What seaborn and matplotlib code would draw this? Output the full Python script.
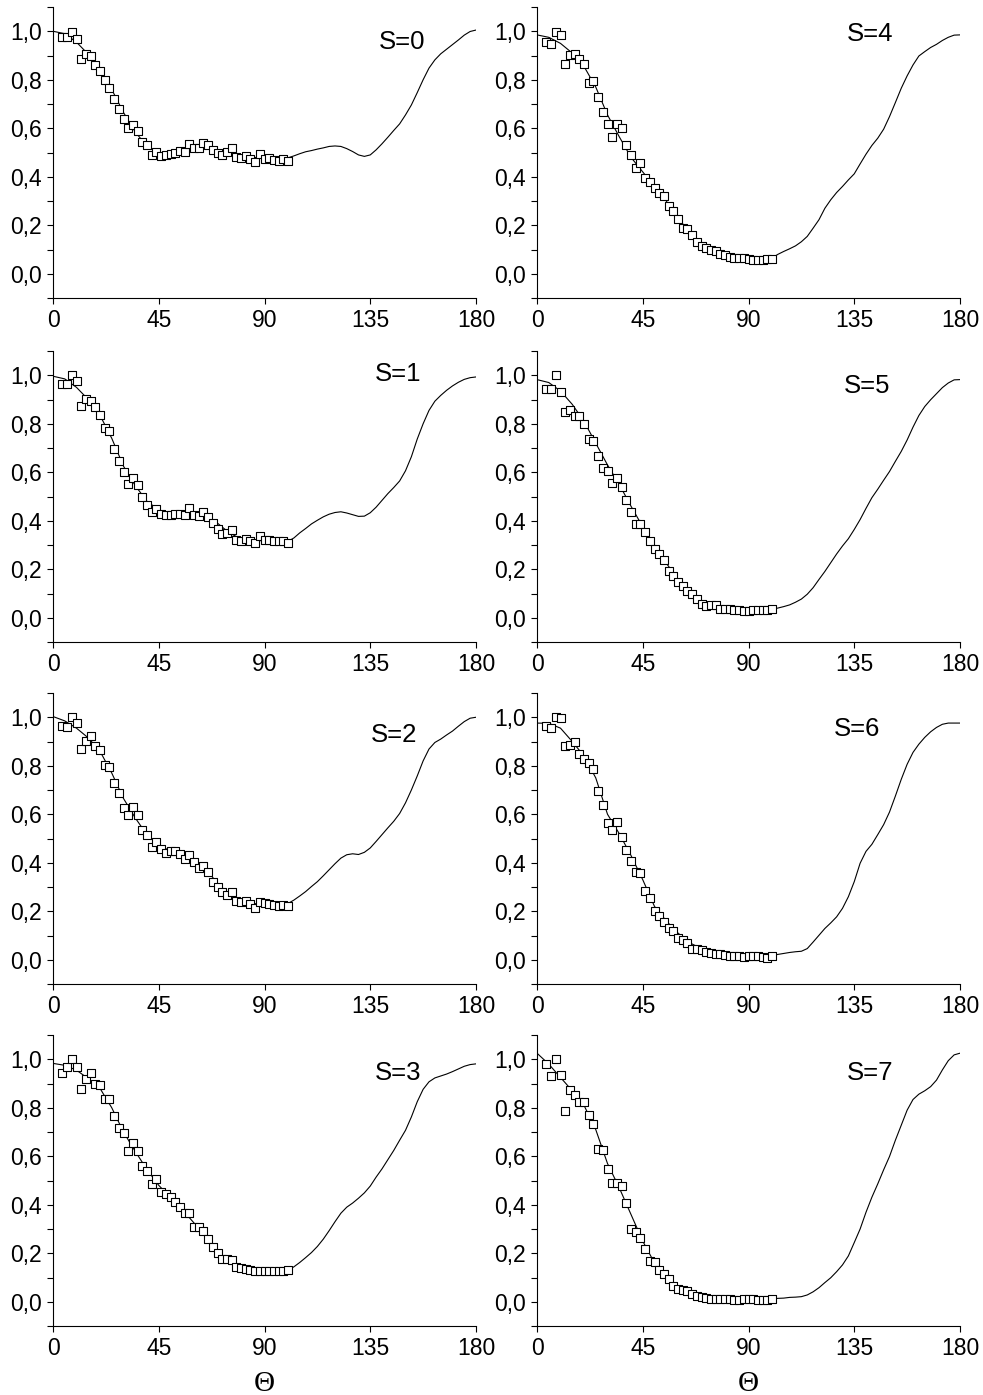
import matplotlib
matplotlib.use("Agg")
import matplotlib.pyplot as plt
import seaborn as sns
import pandas as pd
from matplotlib.ticker import MultipleLocator, FixedLocator, FuncFormatter

# ---------------- data ----------------
theta_exp = [4, 6, 8, 10, 12, 14, 16, 18, 20, 22, 24, 26, 28, 30, 32, 34, 36, 38, 40,
             42, 44, 46, 48, 50, 52, 54, 56, 58, 60, 62, 64, 66, 68, 70, 72, 74, 76,
             78, 80, 82, 84, 86, 88, 90, 92, 94, 96, 98, 100]
theta_fit = [0, 5, 10, 15, 20, 25, 30, 35, 40, 45, 50, 55, 60, 65, 70, 75, 80, 85, 90,
             95, 100, 102.5, 105, 107.5, 110, 112.5, 115, 117.5, 120, 122.5, 125, 127.5,
             130, 132.5, 135, 137.5, 140, 142.5, 145, 147.5, 150, 152.5, 155, 157.5,
             160, 162.5, 165, 167.5, 170, 172.5, 175, 177.5, 180]

exp_s0 = [0.978, 0.978, 0.995, 0.967, 0.885, 0.905, 0.896, 0.861, 0.837, 0.800, 0.768,
          0.720, 0.680, 0.639, 0.602, 0.614, 0.589, 0.545, 0.532, 0.489, 0.504, 0.486,
          0.490, 0.493, 0.499, 0.508, 0.504, 0.534, 0.518, 0.518, 0.541, 0.532, 0.511,
          0.497, 0.489, 0.504, 0.518, 0.481, 0.477, 0.484, 0.473, 0.459, 0.492, 0.474,
          0.478, 0.470, 0.467, 0.474, 0.466]
fit_s0 = [1.000, 0.990, 0.955, 0.905, 0.840, 0.760, 0.665, 0.585, 0.525, 0.495, 0.495,
          0.510, 0.525, 0.525, 0.510, 0.495, 0.485, 0.480, 0.478, 0.475, 0.478,
          0.486, 0.495, 0.503, 0.508, 0.514, 0.519, 0.525, 0.527, 0.525, 0.516, 0.504,
          0.490, 0.484, 0.490, 0.511, 0.536, 0.563, 0.591, 0.618, 0.655, 0.696, 0.747,
          0.800, 0.848, 0.882, 0.907, 0.926, 0.945, 0.964, 0.984, 0.999, 1.005]

exp_s1 = [0.965, 0.965, 1.003, 0.976, 0.874, 0.903, 0.893, 0.869, 0.838, 0.783, 0.769,
          0.696, 0.647, 0.602, 0.553, 0.578, 0.548, 0.498, 0.467, 0.437, 0.450, 0.426,
          0.423, 0.423, 0.426, 0.426, 0.422, 0.451, 0.423, 0.419, 0.437, 0.416, 0.391,
          0.364, 0.347, 0.350, 0.361, 0.321, 0.315, 0.325, 0.315, 0.307, 0.336, 0.322,
          0.320, 0.318, 0.315, 0.315, 0.307]
fit_s1 = [0.996, 0.985, 0.950, 0.900, 0.835, 0.740, 0.625, 0.545, 0.480, 0.445, 0.430,
          0.430, 0.435, 0.425, 0.390, 0.350, 0.325, 0.318, 0.318, 0.316, 0.315,
          0.329, 0.350, 0.368, 0.387, 0.402, 0.416, 0.427, 0.434, 0.437, 0.432, 0.425,
          0.418, 0.419, 0.433, 0.456, 0.484, 0.512, 0.537, 0.564, 0.606, 0.664, 0.737,
          0.800, 0.855, 0.893, 0.917, 0.938, 0.956, 0.971, 0.983, 0.990, 0.993]

exp_s2 = [0.965, 0.958, 1.003, 0.976, 0.871, 0.903, 0.921, 0.882, 0.864, 0.805, 0.793,
          0.730, 0.686, 0.625, 0.595, 0.629, 0.596, 0.537, 0.515, 0.467, 0.487, 0.455,
          0.440, 0.447, 0.447, 0.437, 0.415, 0.432, 0.402, 0.380, 0.387, 0.360, 0.320,
          0.302, 0.281, 0.267, 0.281, 0.242, 0.238, 0.242, 0.230, 0.212, 0.239, 0.232,
          0.230, 0.224, 0.221, 0.225, 0.223]
fit_s2 = [1.003, 0.985, 0.955, 0.915, 0.860, 0.770, 0.665, 0.585, 0.515, 0.470, 0.450,
          0.435, 0.415, 0.375, 0.315, 0.270, 0.245, 0.232, 0.228, 0.228, 0.232,
          0.246, 0.263, 0.281, 0.302, 0.322, 0.346, 0.371, 0.396, 0.419, 0.433, 0.437,
          0.434, 0.443, 0.461, 0.488, 0.516, 0.544, 0.571, 0.603, 0.647, 0.700, 0.758,
          0.820, 0.869, 0.896, 0.910, 0.927, 0.943, 0.963, 0.982, 0.996, 1.000]

exp_s3 = [0.945, 0.967, 1.000, 0.967, 0.876, 0.917, 0.942, 0.900, 0.892, 0.836, 0.838,
          0.768, 0.717, 0.697, 0.622, 0.655, 0.622, 0.558, 0.539, 0.486, 0.507, 0.454,
          0.445, 0.434, 0.410, 0.392, 0.366, 0.366, 0.309, 0.309, 0.290, 0.258, 0.224,
          0.203, 0.178, 0.178, 0.171, 0.144, 0.141, 0.135, 0.130, 0.127, 0.127, 0.127,
          0.127, 0.127, 0.127, 0.127, 0.130]
fit_s3 = [0.983, 0.975, 0.955, 0.920, 0.880, 0.800, 0.700, 0.620, 0.545, 0.480, 0.430,
          0.380, 0.325, 0.265, 0.205, 0.165, 0.142, 0.132, 0.128, 0.127, 0.130,
          0.144, 0.162, 0.182, 0.203, 0.228, 0.258, 0.293, 0.330, 0.365, 0.390, 0.407,
          0.427, 0.449, 0.477, 0.514, 0.548, 0.586, 0.624, 0.666, 0.707, 0.762, 0.825,
          0.876, 0.907, 0.923, 0.931, 0.939, 0.949, 0.960, 0.971, 0.978, 0.981]

exp_s4 = [0.957, 0.948, 0.996, 0.986, 0.865, 0.902, 0.905, 0.885, 0.864, 0.788, 0.793,
          0.729, 0.669, 0.618, 0.563, 0.618, 0.599, 0.529, 0.488, 0.435, 0.455, 0.396,
          0.380, 0.352, 0.335, 0.320, 0.280, 0.260, 0.224, 0.190, 0.184, 0.161, 0.130,
          0.114, 0.106, 0.096, 0.092, 0.082, 0.077, 0.071, 0.067, 0.067, 0.065, 0.060,
          0.058, 0.056, 0.055, 0.062, 0.060]
fit_s4 = [0.985, 0.975, 0.950, 0.910, 0.855, 0.770, 0.655, 0.565, 0.480, 0.420, 0.360,
          0.300, 0.230, 0.170, 0.120, 0.095, 0.080, 0.070, 0.062, 0.058, 0.065,
          0.080, 0.092, 0.103, 0.115, 0.132, 0.154, 0.188, 0.223, 0.270, 0.305, 0.335,
          0.360, 0.387, 0.412, 0.453, 0.493, 0.529, 0.559, 0.596, 0.648, 0.706, 0.765,
          0.816, 0.861, 0.898, 0.916, 0.933, 0.946, 0.962, 0.975, 0.984, 0.985]

exp_s5 = [0.945, 0.945, 1.003, 0.931, 0.848, 0.855, 0.830, 0.834, 0.797, 0.737, 0.728,
          0.669, 0.617, 0.606, 0.557, 0.575, 0.539, 0.484, 0.437, 0.385, 0.387, 0.353,
          0.315, 0.285, 0.263, 0.239, 0.191, 0.173, 0.147, 0.129, 0.111, 0.097, 0.077,
          0.058, 0.050, 0.054, 0.053, 0.037, 0.037, 0.036, 0.033, 0.032, 0.028, 0.026,
          0.030, 0.030, 0.032, 0.033, 0.035]
fit_s5 = [0.982, 0.970, 0.935, 0.880, 0.810, 0.720, 0.630, 0.550, 0.460, 0.375, 0.300,
          0.225, 0.160, 0.105, 0.070, 0.050, 0.040, 0.034, 0.030, 0.031, 0.035,
          0.040, 0.046, 0.053, 0.064, 0.077, 0.097, 0.124, 0.158, 0.191, 0.227, 0.263,
          0.296, 0.326, 0.364, 0.405, 0.451, 0.495, 0.530, 0.567, 0.603, 0.645, 0.686,
          0.733, 0.786, 0.834, 0.871, 0.899, 0.924, 0.949, 0.968, 0.981, 0.982]

exp_s6 = [0.963, 0.954, 1.000, 0.997, 0.882, 0.885, 0.896, 0.848, 0.827, 0.810, 0.788,
          0.696, 0.640, 0.562, 0.537, 0.567, 0.506, 0.454, 0.409, 0.360, 0.357, 0.285,
          0.253, 0.200, 0.181, 0.156, 0.131, 0.118, 0.090, 0.080, 0.069, 0.046, 0.043,
          0.039, 0.030, 0.028, 0.025, 0.022, 0.019, 0.014, 0.014, 0.014, 0.010, 0.015,
          0.015, 0.014, 0.011, 0.007, 0.015]
fit_s6 = [0.976, 0.975, 0.955, 0.900, 0.840, 0.750, 0.600, 0.520, 0.430, 0.330, 0.220,
          0.160, 0.110, 0.070, 0.045, 0.030, 0.022, 0.018, 0.015, 0.013, 0.018,
          0.022, 0.026, 0.030, 0.033, 0.035, 0.046, 0.073, 0.101, 0.129, 0.152, 0.177,
          0.212, 0.260, 0.322, 0.398, 0.447, 0.476, 0.516, 0.557, 0.609, 0.675, 0.744,
          0.806, 0.855, 0.889, 0.917, 0.940, 0.958, 0.971, 0.976, 0.976, 0.976]

exp_s7 = [0.979, 0.931, 1.000, 0.935, 0.787, 0.873, 0.852, 0.825, 0.822, 0.769, 0.732,
          0.628, 0.624, 0.546, 0.490, 0.489, 0.479, 0.406, 0.300, 0.286, 0.261, 0.217,
          0.169, 0.162, 0.131, 0.113, 0.095, 0.065, 0.054, 0.047, 0.044, 0.033, 0.022,
          0.019, 0.014, 0.012, 0.012, 0.010, 0.010, 0.010, 0.006, 0.008, 0.010, 0.012,
          0.012, 0.006, 0.006, 0.008, 0.010]
fit_s7 = [1.025, 0.980, 0.925, 0.870, 0.810, 0.710, 0.570, 0.470, 0.360, 0.250, 0.160,
          0.100, 0.060, 0.035, 0.022, 0.015, 0.012, 0.010, 0.010, 0.010, 0.012,
          0.014, 0.015, 0.018, 0.019, 0.021, 0.028, 0.041, 0.058, 0.079, 0.099, 0.124,
          0.152, 0.189, 0.244, 0.300, 0.369, 0.431, 0.486, 0.544, 0.599, 0.666, 0.728,
          0.790, 0.834, 0.856, 0.870, 0.887, 0.914, 0.956, 0.994, 1.018, 1.025]

panel_labels = ["S=0", "S=1", "S=2", "S=3", "S=4", "S=5", "S=6", "S=7"]
exp_series = [exp_s0, exp_s1, exp_s2, exp_s3, exp_s4, exp_s5, exp_s6, exp_s7]
fit_series = [fit_s0, fit_s1, fit_s2, fit_s3, fit_s4, fit_s5, fit_s6, fit_s7]
x_ticks = [0, 45, 90, 135, 180]
y_ticks = [0.0, 0.2, 0.4, 0.6, 0.8, 1.0]
x_label = "\u0398"

# ---------------- style ----------------
sns.set_style("ticks")
plt.rcParams['font.family'] = ['Liberation Sans', 'DejaVu Sans']
plt.rcParams['text.color'] = 'black'
plt.rcParams['axes.labelcolor'] = 'black'
plt.rcParams['xtick.color'] = 'black'
plt.rcParams['ytick.color'] = 'black'
plt.rcParams['axes.edgecolor'] = 'black'

W, H = 983, 1395
fig = plt.figure(figsize=(W / 100, H / 100), dpi=100)

col_left = [53, 537]
row_top = [7, 351, 693, 1035]
ax_w, ax_h = 423, 291

label_pos = [(148.5, 0.957), (146.7, 1.007), (145.1, 0.927), (146.9, 0.942),
             (141.7, 0.990), (140.3, 0.954), (136.2, 0.951), (141.8, 0.942)]

comma_fmt = FuncFormatter(lambda v, p: f"{v:.1f}".replace(".", ","))

for i in range(8):
    col, row = divmod(i, 4)
    left = col_left[col] / W
    bottom = 1 - (row_top[row] + ax_h) / H
    ax = fig.add_axes([left, bottom, ax_w / W, ax_h / H])

    fit_df = pd.DataFrame({"theta": theta_fit, "value": fit_series[i]})
    exp_df = pd.DataFrame({"theta": theta_exp, "value": exp_series[i]})

    sns.lineplot(data=fit_df, x="theta", y="value", ax=ax, color="black",
                 linewidth=0.8, zorder=2)
    sns.scatterplot(data=exp_df, x="theta", y="value", ax=ax, marker="s", s=30,
                    facecolor="white", edgecolor="black", linewidth=0.8, zorder=3)

    ax.set_xlim(0, 180)
    ax.set_ylim(-0.1, 1.1)
    ax.xaxis.set_major_locator(FixedLocator(x_ticks))
    ax.yaxis.set_major_locator(FixedLocator(y_ticks))
    ax.yaxis.set_minor_locator(MultipleLocator(0.1))
    ax.yaxis.set_major_formatter(comma_fmt)
    ax.tick_params(axis="both", which="both", direction="out", length=4, width=0.8,
                   color="black", labelcolor="black")
    ax.tick_params(axis="both", which="major", labelsize=16.5, pad=4)
    for side in ("top", "right"):
        ax.spines[side].set_visible(False)
    for side in ("left", "bottom"):
        ax.spines[side].set_linewidth(0.8)
        ax.spines[side].set_color("black")

    ax.set_ylabel("")
    if row == 3:
        ax.set_xlabel(x_label, fontsize=21, family=["Liberation Serif", "DejaVu Serif"],
                      labelpad=8, color="black")
    else:
        ax.set_xlabel("")

    lx, ly = label_pos[i]
    ax.text(lx, ly, panel_labels[i], fontsize=18.5, ha="center", va="center",
            color="black")

fig.savefig("out.png", dpi=100)
